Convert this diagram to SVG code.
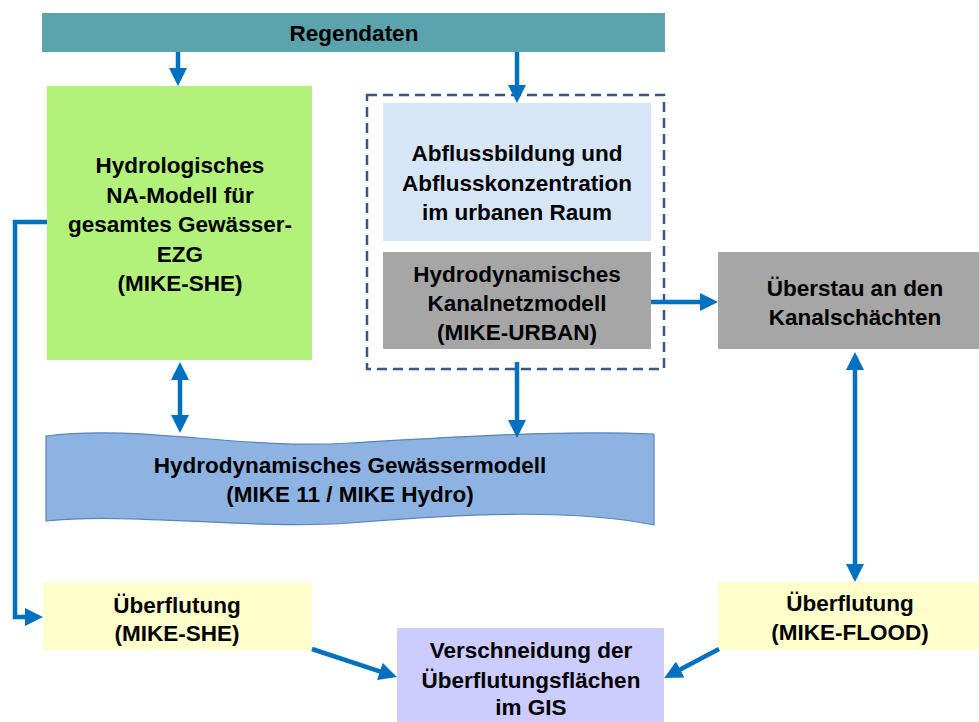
<svg xmlns="http://www.w3.org/2000/svg" width="979" height="722" viewBox="0 0 979 722">
<defs>
<style>
text{font-family:"Liberation Sans",Arial,sans-serif;font-weight:bold;font-size:22.5px;fill:#000;text-anchor:middle}
.c{fill:none;stroke:#0070c0;stroke-width:4.5}
</style>
<marker id="ah" markerUnits="userSpaceOnUse" markerWidth="18" markerHeight="18" refX="7" refY="9" orient="auto-start-reverse"><path d="M0,0 L18,9 L0,18 Z" fill="#0070c0"/></marker>
</defs>
<rect width="979" height="722" fill="#fff"/>
<g id="regendaten"><rect x="42" y="13" width="623" height="39" fill="#5ba3ad"/><text x="354" y="41">Regendaten</text></g>
<g id="mike-she"><rect x="47" y="86" width="265" height="274" fill="#b3f27a"/>
<text x="180" y="173">Hydrologisches</text><text x="180" y="202.5">NA-Modell für</text><text x="180" y="232">gesamtes Gewässer-</text><text x="180" y="261.5">EZG</text><text x="180" y="291">(MIKE-SHE)</text></g>
<g id="urban-group"><rect x="367" y="95" width="297" height="274" fill="none" stroke="#3b5488" stroke-width="2.5" stroke-dasharray="10,6"/></g>
<g id="abfluss"><rect x="383" y="103" width="268" height="138" fill="#d6e6f7"/>
<text x="517" y="161">Abflussbildung und</text><text x="517" y="191">Abflusskonzentration</text><text x="517" y="220">im urbanen Raum</text></g>
<g id="kanalnetz"><rect x="383" y="252" width="268" height="97" fill="#a6a6a6"/>
<text x="517" y="282">Hydrodynamisches</text><text x="517" y="311">Kanalnetzmodell</text><text x="517" y="340">(MIKE-URBAN)</text></g>
<g id="ueberstau"><rect x="718" y="252" width="261" height="97" fill="#a6a6a6"/>
<text x="855" y="296">Überstau an den</text><text x="855" y="325">Kanalschächten</text></g>
<g id="gewaesser"><path d="M46,436 C140,424 240,450 350,443 C450,437 560,430 654,434 L654,525 C580,510 480,512 350,523 C250,530 130,512 46,521 Z" fill="#8db3e2" stroke="#5a84ba" stroke-width="1.2"/>
<text x="350" y="473">Hydrodynamisches Gewässermodell</text><text x="350" y="502">(MIKE 11 / MIKE Hydro)</text></g>
<g id="ueberflutung-she"><rect x="43" y="583" width="269" height="67" fill="#ffffcc"/>
<text x="177" y="613">Überflutung</text><text x="177" y="641">(MIKE-SHE)</text></g>
<g id="ueberflutung-flood"><rect x="718" y="582" width="261" height="68" fill="#ffffcc"/>
<text x="850" y="611">Überflutung</text><text x="850" y="640">(MIKE-FLOOD)</text></g>
<g id="verschneidung"><rect x="397" y="628" width="267" height="94" fill="#ccccff"/>
<text x="531" y="658">Verschneidung der</text><text x="531" y="688">Überflutungsflächen</text><text x="531" y="715">im GIS</text></g>
<g id="connectors">
<path class="c" d="M178,52 V75" marker-end="url(#ah)"/>
<path class="c" d="M517,52 V92" marker-end="url(#ah)"/>
<path class="c" d="M180,373 V422" marker-start="url(#ah)" marker-end="url(#ah)"/>
<path class="c" d="M517,362 V427" marker-end="url(#ah)"/>
<path class="c" d="M651,302 H707" marker-end="url(#ah)"/>
<path class="c" d="M855,363 V571" marker-start="url(#ah)" marker-end="url(#ah)"/>
<path class="c" d="M47,222 H15 V617 H32" marker-end="url(#ah)"/>
<path class="c" d="M312,649 L386.5,673.6" marker-end="url(#ah)"/>
<path class="c" d="M719,649 L674,672.8" marker-end="url(#ah)"/>
</g>
</svg>
